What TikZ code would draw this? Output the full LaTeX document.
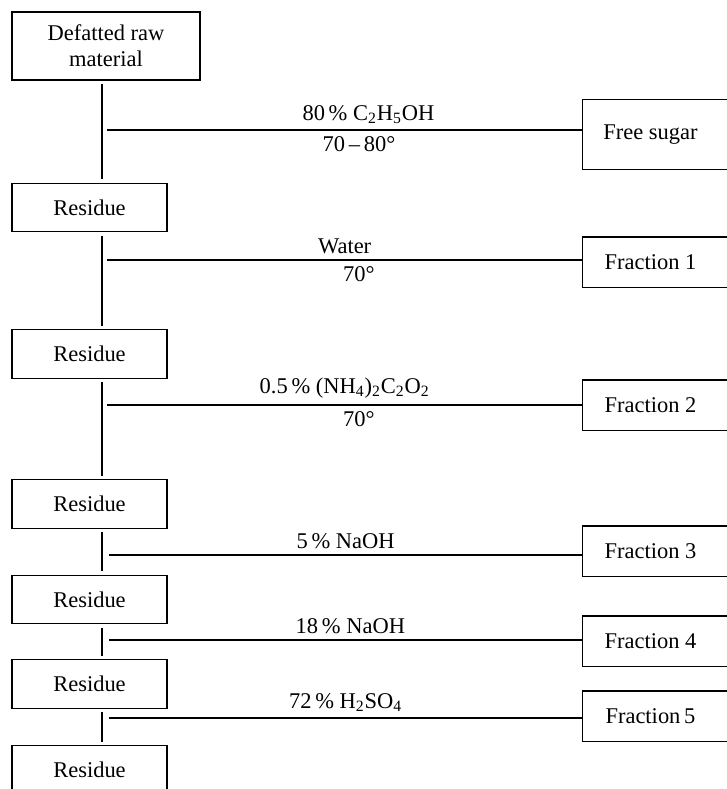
\documentclass[tikz,border=0pt]{standalone}
\usepackage{fontspec}
\setmainfont{Liberation Serif}
\usepackage{tikz}

\begin{document}
\begin{tikzpicture}[x=0.02cm, y=-0.02cm, font=\fontsize{12.8}{15}\selectfont,
		resbox/.style={draw, thick, minimum width=3.1cm, minimum height=0.97cm, inner sep=0pt},
		fracbox/.style={thick, minimum width=2.7cm, minimum height=0.98cm, inner sep=0pt},
		link/.style={thick}]
			\useasboundingbox (0,0) rectangle (727,789);
			\clip (0,0) rectangle (727,789);
			
			\node[resbox, minimum width=3.76cm, minimum height=1.36cm, align=center] (raw) at (106,46){Defatted raw\\material};
			\node[resbox] (res1) at (89.5,207.5){Residue};
			\node[resbox] (res2) at (89.5,354){Residue};
			\node[resbox] (res3) at (89.5,504){Residue};
			\node[resbox] (res4) at (89.5,599.5){Residue};
			\node[resbox] (res5) at (89.5,684){Residue};
			\node[resbox] (res6) at (89.5,770){Residue};
			
			\node[fracbox, minimum height=1.38cm] (sugar) at (650.5,134.5){Free sugar};
			\node[fracbox] (frac1) at (650.5,262){Fraction 1};
			\node[fracbox] (frac2) at (650.5,405){Fraction 2};
			\node[fracbox] (frac3) at (650.5,551){Fraction 3};
			\node[fracbox] (frac4) at (650.5,641){Fraction 4};
			\node[fracbox] (frac5) at (650.5,716){Fraction\,5};
			
			\foreach \f in {sugar,frac1,frac2,frac3,frac4,frac5}
				\draw[thick] ([xshift=10pt]\f.north east) -- (\f.north west) -- (\f.south west) -- ([xshift=10pt]\f.south east);
			
			\coordinate (spine) at (102,0);
			\foreach \a/\b in {raw/res1,res1/res2,res2/res3,res3/res4,res4/res5,res5/res6}
				\draw[link, shorten <=2pt, shorten >=2pt] (\a.south -| spine) -- (\b.north -| spine);
			
			\coordinate (b1) at (107,130);
			\coordinate (b2) at (107,260);
			\coordinate (b3) at (107,405);
			\coordinate (b4) at (109,555);
			\coordinate (b5) at (109,640);
			\coordinate (b6) at (109,718);
			
			\draw[link] (b1) -- (b1 -| sugar.west)
				node[pos=0.55, above]{80\,\% C\textsubscript{2}H\textsubscript{5}OH}
				node[pos=0.53, below]{70\,--\,80°};
			\draw[link] (b2) -- (b2 -| frac1.west)
				node[midway, above]{Water}
				node[pos=0.53, below]{70°};
			\draw[link] (b3) -- (b3 -| frac2.west)
				node[midway, above]{0.5\,\% (NH\textsubscript{4})\textsubscript{2}C\textsubscript{2}O\textsubscript{2}}
				node[pos=0.53, below]{70°};
			\draw[link] (b4) -- (b4 -| frac3.west) node[midway, above]{5\,\% NaOH};
			\draw[link] (b5) -- (b5 -| frac4.west) node[pos=0.51, above]{18\,\% NaOH};
			\draw[link] (b6) -- (b6 -| frac5.west) node[midway, above]{72\,\% H\textsubscript{2}SO\textsubscript{4}};
		\end{tikzpicture}
\end{document}
